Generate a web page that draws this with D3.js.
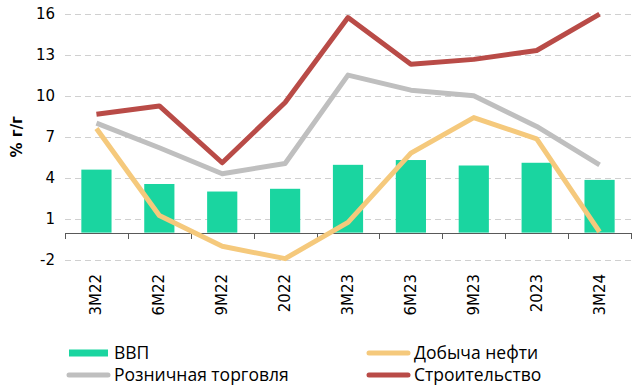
<!DOCTYPE html>
<html><head><meta charset="utf-8">
<script src="https://cdn.jsdelivr.net/npm/d3@7"></script>
<style>body{margin:0;background:#fff}svg{display:block}</style>
</head><body>
<svg id="c" width="643" height="388"></svg>
<script>
const categories = ["3М22","6М22","9М22","2022","3М23","6М23","9М23","2023","3М24"];
const gdp = [4.6, 3.55, 3.0, 3.2, 4.95, 5.3, 4.9, 5.1, 3.85];
const oil = [7.6, 1.25, -1.0, -1.9, 0.75, 5.8, 8.4, 6.85, 0.05];
const retail = [8.0, 6.2, 4.3, 5.05, 11.5, 10.4, 10.0, 7.75, 4.95];
const construction = [8.65, 9.25, 5.1, 9.5, 15.7, 12.3, 12.65, 13.3, 15.95];
const yTicks = [-2, 1, 4, 7, 10, 13, 16];
const legendItems = [
  {name:"ВВП", type:"bar", color:"#1ad5a0"},
  {name:"Добыча нефти", type:"line", color:"#f5c97c"},
  {name:"Розничная торговля", type:"line", color:"#bfbfbf"},
  {name:"Строительство", type:"line", color:"#b94b47"}
];

const svg = d3.select("#c");
const left = 65, right = 631;
const x = d3.scaleBand().domain(categories).range([left, right]).paddingInner(0.52).paddingOuter(0.26);
const y = d3.scaleLinear().domain([-2, 16]).range([260, 13.5]);
const xc = d => x(d) + x.bandwidth()/2;
const axisFont = "'DejaVu Sans', Verdana, sans-serif";

// gridlines
svg.append("g").selectAll("line").data(yTicks).join("line")
  .attr("x1", left).attr("x2", right)
  .attr("y1", d => Math.round(y(d))+0.5).attr("y2", d => Math.round(y(d))+0.5)
  .attr("stroke", "#d0d0d0").attr("stroke-width", 1).attr("stroke-dasharray", "6,4");

// y labels
const ya = svg.append("g").attr("transform", `translate(${left},0)`)
  .call(d3.axisLeft(y).tickValues(yTicks).tickSize(0).tickPadding(10).tickFormat(d => String(d)));
ya.select(".domain").remove();
ya.attr("font-family", null);
ya.selectAll("text").style("font-family", axisFont).style("font-size", "15px").attr("fill", "#000");

// y title
svg.append("text").attr("transform", `translate(22,${y(7)}) rotate(-90)`)
  .attr("text-anchor", "middle").style("font-family", axisFont)
  .style("font-size", "15px").attr("font-weight", "bold").text("% г/г");

// bars
svg.append("g").selectAll("rect").data(gdp).join("rect")
  .attr("x", (d,i) => x(categories[i])).attr("width", x.bandwidth())
  .attr("y", d => y(d)).attr("height", d => y(0) - y(d))
  .attr("fill", legendItems[0].color);

// x axis
const step = x.step();
const bounds = d3.range(categories.length + 1).map(i => left + i*step);
const xa = svg.append("g");
xa.append("line").attr("x1", left).attr("x2", right).attr("y1", Math.round(y(0))+0.5).attr("y2", Math.round(y(0))+0.5)
  .attr("stroke", "#595959").attr("stroke-width", 1);
xa.selectAll("line.t").data(bounds).join("line").attr("class","t")
  .attr("x1", d => Math.round(d)+0.5).attr("x2", d => Math.round(d)+0.5)
  .attr("y1", Math.round(y(0))).attr("y2", Math.round(y(0))+6)
  .attr("stroke", "#595959");
xa.selectAll("text").data(categories).join("text")
  .attr("transform", d => `translate(${xc(d)+5},274) rotate(-90)`)
  .attr("text-anchor", "end").style("font-family", axisFont)
  .style("font-size", "15px").attr("fill", "#000").text(d => d);

// lines
const line = d3.line().x((d,i) => xc(categories[i])).y(d => y(d));
[[oil, legendItems[1].color], [retail, legendItems[2].color], [construction, legendItems[3].color]].forEach(([vals, col]) => {
  svg.append("path").datum(vals).attr("d", line).attr("fill", "none")
    .attr("stroke", col).attr("stroke-width", 5).attr("stroke-linejoin", "round");
});

// legend
const lg = svg.append("g").style("font-family", "'Open Sans', 'Noto Sans', sans-serif").style("font-size", "17.5px");
const pos = [[69, 353], [369, 353], [69, 375], [369, 375]];
legendItems.forEach((it, i) => {
  const [lx, ly] = pos[i];
  if (it.type === "bar") {
    lg.append("rect").attr("x", lx).attr("y", ly-3.5).attr("width", 39).attr("height", 7).attr("fill", it.color);
  } else {
    lg.append("line").attr("x1", lx).attr("x2", lx+39).attr("y1", ly).attr("y2", ly)
      .attr("stroke", it.color).attr("stroke-width", 5).attr("stroke-linecap", "round");
  }
  lg.append("text").attr("x", lx+45).attr("y", ly).attr("dy", "0.35em").attr("fill", "#000").text(it.name);
});
</script>
</body></html>
